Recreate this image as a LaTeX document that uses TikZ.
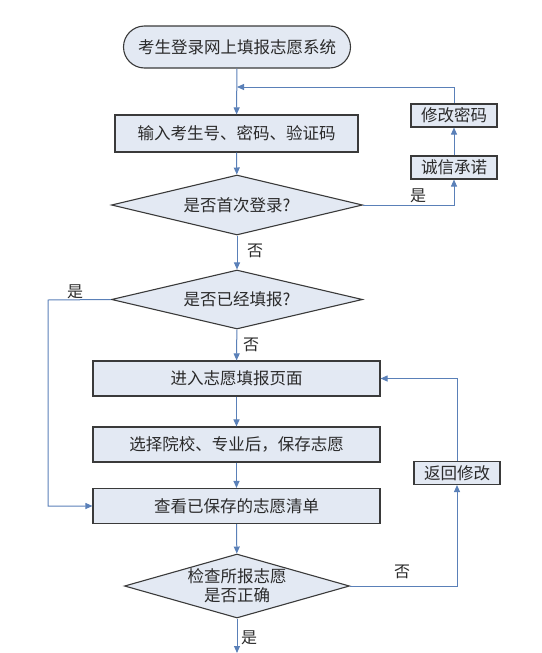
\documentclass[tikz,border=0pt]{standalone}
\usepackage{fontspec}
\setmainfont{Noto Sans CJK SC}
\usetikzlibrary{shapes.geometric,arrows.meta}
\definecolor{boxfill}{HTML}{E3E9F3}
\definecolor{boxline}{HTML}{3A3A3A}
\definecolor{arrline}{HTML}{5A80B8}
\definecolor{txt}{HTML}{2A2A2A}
\tikzset{
  base/.style={draw=boxline, fill=boxfill, line width=1.1pt, text=txt, inner sep=0pt,
    font=\fontsize{16.5}{20}\selectfont},
  procbox/.style={base, rectangle, minimum width=287pt, minimum height=35pt},
  smallbox/.style={base, rectangle, minimum width=86pt, minimum height=23pt},
  decision/.style={base, diamond, aspect=4},
  arr/.style={draw=arrline, line width=1pt, -{Triangle[length=7pt,width=6pt]}},
  lbl/.style={text=txt, font=\fontsize{16}{19}\selectfont, inner sep=0pt}
}
\begin{document}
\begin{tikzpicture}[x=1pt,y=-1pt]
\useasboundingbox (0,0) rectangle (541,653);
\node[base, rectangle, rounded corners=21pt, minimum width=227pt, minimum height=42pt] (start) at (237,47) {考生登录网上填报志愿系统};
\node[base, rectangle, minimum width=243pt, minimum height=37pt] (input) at (236.5,133.5) {输入考生号、密码、验证码};
\node[decision, minimum width=251pt, minimum height=60pt] (d1) at (237,205) {是否首次登录?};
\node[smallbox] (honest) at (454,167.5) {诚信承诺};
\node[smallbox] (pwd) at (454,115.5) {修改密码};
\node[decision, minimum width=251pt, minimum height=59pt] (d2) at (237,299.5) {是否已经填报?};
\node[procbox] (enter) at (236.5,378.5) {进入志愿填报页面};
\node[procbox] (choose) at (236.5,444.5) {选择院校、专业后，保存志愿};
\node[procbox] (view) at (236.5,506) {查看已保存的志愿清单};
\node[decision, minimum width=225pt, minimum height=64pt,
  label={[text=txt, inner sep=0pt, align=center, font=\fontsize{16.5}{19}\selectfont]center:{检查所报志愿\\是否正确}}] (d3) at (237,586) {};
\node[smallbox] (back) at (457,473) {返回修改};
\coordinate (join) at (237,87);
\coordinate (leftx) at (48,300);
\coordinate (endpt) at (237,653);

\draw[arr] (start) -- (input);
\draw[arr] (pwd.north) |- (join);
\draw[arr] (input) -- (d1);
\draw[arr] (d1.east) -| (honest.south);
\draw[arr] (honest) -- (pwd);
\draw[arr] (d1) -- (d2);
\draw[arr] (d2.west) -- (leftx) |- (view.west);
\draw[arr] (d2) -- (enter);
\draw[arr] (enter) -- (choose);
\draw[arr] (choose) -- (view);
\draw[arr] (view) -- (d3);
\draw[arr] (d3.east) -| (back.south);
\draw[arr] (back.north) |- (enter.east);
\draw[arr] (d3) -- (endpt);

\node[lbl] (l1) at (418,196) {是};
\node[lbl] (l2) at (255,251) {否};
\node[lbl] (l3) at (75,292) {是};
\node[lbl] (l4) at (251,345) {否};
\node[lbl] (l5) at (402,572) {否};
\node[lbl] (l6) at (249,638) {是};
\end{tikzpicture}
\end{document}
